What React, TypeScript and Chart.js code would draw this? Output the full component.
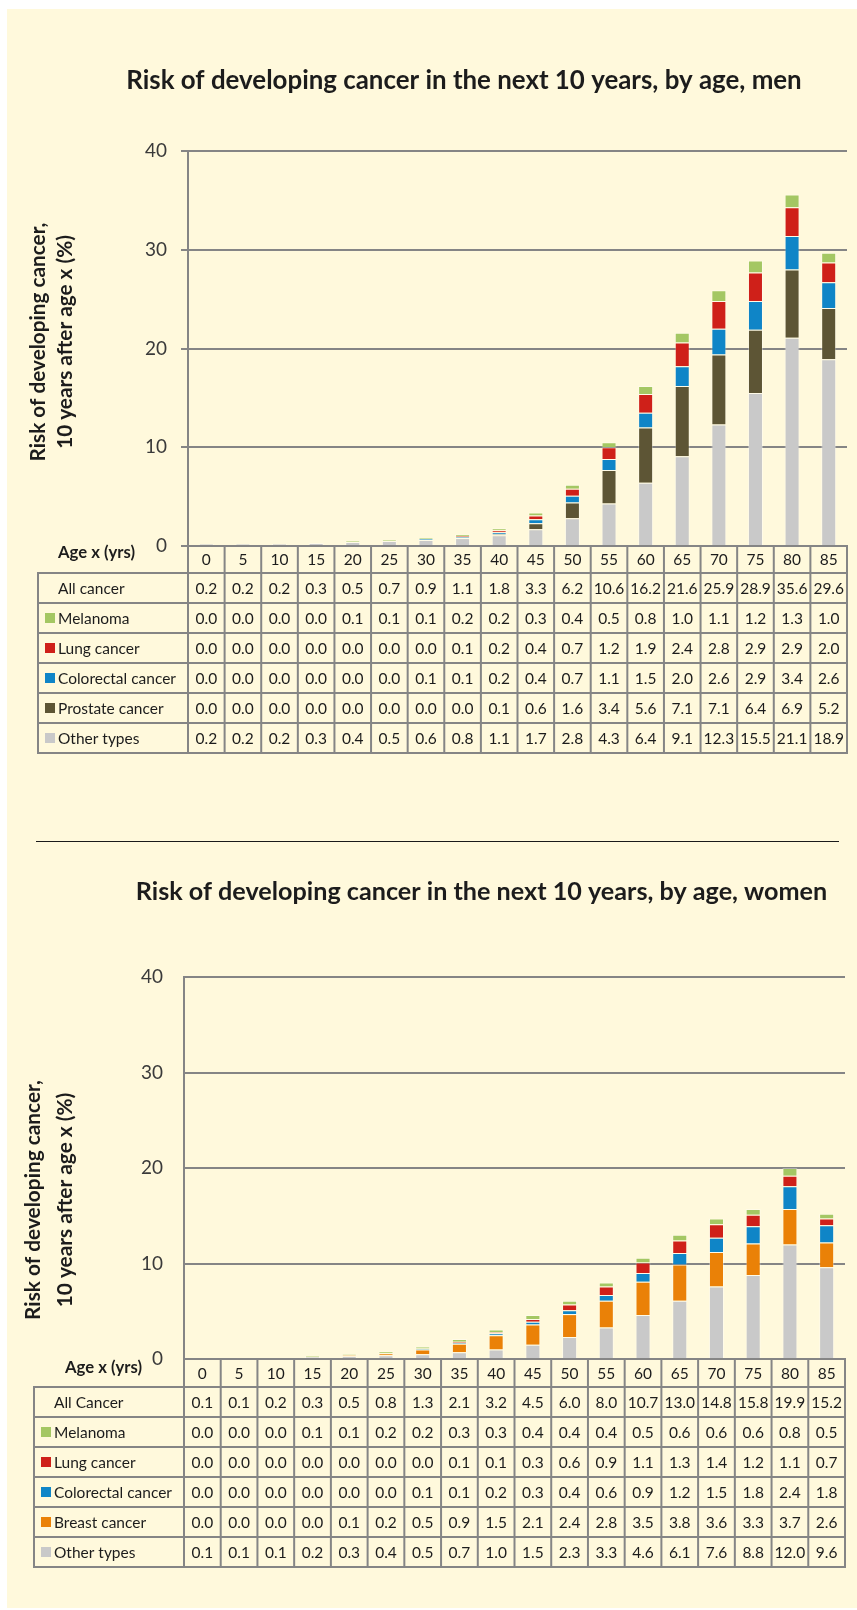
import React, { useEffect, useRef } from 'react';
import { Chart, registerables } from 'chart.js';

Chart.register(...registerables);

const FONT = 'Lato, "Open Sans", sans-serif';
Chart.defaults.font.family = FONT;

// ---------- DATA ----------
const ageLabels = ['0', '5', '10', '15', '20', '25', '30', '35', '40', '45', '50', '55', '60', '65', '70', '75', '80', '85'];

const menTitle = 'Risk of developing cancer in the next 10 years, by age, men';
const menAllCancer = [0.2, 0.2, 0.2, 0.3, 0.5, 0.7, 0.9, 1.1, 1.8, 3.3, 6.2, 10.6, 16.2, 21.6, 25.9, 28.9, 35.6, 29.6];
const menMelanoma = [0.0, 0.0, 0.0, 0.0, 0.1, 0.1, 0.1, 0.2, 0.2, 0.3, 0.4, 0.5, 0.8, 1.0, 1.1, 1.2, 1.3, 1.0];
const menLung = [0.0, 0.0, 0.0, 0.0, 0.0, 0.0, 0.0, 0.1, 0.2, 0.4, 0.7, 1.2, 1.9, 2.4, 2.8, 2.9, 2.9, 2.0];
const menColorectal = [0.0, 0.0, 0.0, 0.0, 0.0, 0.0, 0.1, 0.1, 0.2, 0.4, 0.7, 1.1, 1.5, 2.0, 2.6, 2.9, 3.4, 2.6];
const menProstate = [0.0, 0.0, 0.0, 0.0, 0.0, 0.0, 0.0, 0.0, 0.1, 0.6, 1.6, 3.4, 5.6, 7.1, 7.1, 6.4, 6.9, 5.2];
const menOther = [0.2, 0.2, 0.2, 0.3, 0.4, 0.5, 0.6, 0.8, 1.1, 1.7, 2.8, 4.3, 6.4, 9.1, 12.3, 15.5, 21.1, 18.9];

const womenTitle = 'Risk of developing cancer in the next 10 years, by age, women';
const womenAllCancer = [0.1, 0.1, 0.2, 0.3, 0.5, 0.8, 1.3, 2.1, 3.2, 4.5, 6.0, 8.0, 10.7, 13.0, 14.8, 15.8, 19.9, 15.2];
const womenMelanoma = [0.0, 0.0, 0.0, 0.1, 0.1, 0.2, 0.2, 0.3, 0.3, 0.4, 0.4, 0.4, 0.5, 0.6, 0.6, 0.6, 0.8, 0.5];
const womenLung = [0.0, 0.0, 0.0, 0.0, 0.0, 0.0, 0.0, 0.1, 0.1, 0.3, 0.6, 0.9, 1.1, 1.3, 1.4, 1.2, 1.1, 0.7];
const womenColorectal = [0.0, 0.0, 0.0, 0.0, 0.0, 0.0, 0.1, 0.1, 0.2, 0.3, 0.4, 0.6, 0.9, 1.2, 1.5, 1.8, 2.4, 1.8];
const womenBreast = [0.0, 0.0, 0.0, 0.0, 0.1, 0.2, 0.5, 0.9, 1.5, 2.1, 2.4, 2.8, 3.5, 3.8, 3.6, 3.3, 3.7, 2.6];
const womenOther = [0.1, 0.1, 0.1, 0.2, 0.3, 0.4, 0.5, 0.7, 1.0, 1.5, 2.3, 3.3, 4.6, 6.1, 7.6, 8.8, 12.0, 9.6];

const yTitleLines = ['Risk of developing cancer,', '10 years after age x (%)'];
const ageAxisTitle = 'Age x (yrs)';
const yTicks = { min: 0, max: 40, step: 10 };

// ---------- STYLE ----------
const CREAM = '#FFF9DC';
const C_GRAY = '#C9C9C9';
const C_OLIVE = '#5D5535';
const C_BLUE = '#0F85C7';
const C_RED = '#CF2019';
const C_GREEN = '#A4C763';
const C_ORANGE = '#EA8107';
const LINE = '#858585';
const TEXT = '#1c1c1c';

type Series = { name: string; values: number[]; color: string };
type Row = { label: string; color: string | null; values: number[] };

const menSpec = {
  title: menTitle,
  series: [
    { name: 'Other types', values: menOther, color: C_GRAY },
    { name: 'Prostate cancer', values: menProstate, color: C_OLIVE },
    { name: 'Colorectal cancer', values: menColorectal, color: C_BLUE },
    { name: 'Lung cancer', values: menLung, color: C_RED },
    { name: 'Melanoma', values: menMelanoma, color: C_GREEN },
  ] as Series[],
  rows: [
    { label: 'All cancer', color: null, values: menAllCancer },
    { label: 'Melanoma', color: C_GREEN, values: menMelanoma },
    { label: 'Lung cancer', color: C_RED, values: menLung },
    { label: 'Colorectal cancer', color: C_BLUE, values: menColorectal },
    { label: 'Prostate cancer', color: C_OLIVE, values: menProstate },
    { label: 'Other types', color: C_GRAY, values: menOther },
  ] as Row[],
};

const womenSpec = {
  title: womenTitle,
  series: [
    { name: 'Other types', values: womenOther, color: C_GRAY },
    { name: 'Breast cancer', values: womenBreast, color: C_ORANGE },
    { name: 'Colorectal cancer', values: womenColorectal, color: C_BLUE },
    { name: 'Lung cancer', values: womenLung, color: C_RED },
    { name: 'Melanoma', values: womenMelanoma, color: C_GREEN },
  ] as Series[],
  rows: [
    { label: 'All Cancer', color: null, values: womenAllCancer },
    { label: 'Melanoma', color: C_GREEN, values: womenMelanoma },
    { label: 'Lung cancer', color: C_RED, values: womenLung },
    { label: 'Colorectal cancer', color: C_BLUE, values: womenColorectal },
    { label: 'Breast cancer', color: C_ORANGE, values: womenBreast },
    { label: 'Other types', color: C_GRAY, values: womenOther },
  ] as Row[],
};

// layout (canvas coordinates)
const menLayout = {
  pageTop: 9, width: 850, height: 791,
  padLeft: 74, padRight: 10, yAxisWidth: 107, padBottom: 254,
  titleCenter: 72, plotTop: 142, titleWidth: 676,
  drawTicks: true, tickPadding: 14,
  yTitleX: [31, 58], yTitleCY: 333, yTitleWidth: 239,
  ageX: 51, ageCY: 544, ageWidth: 77,
  tableLeft: 31, ageRowBottom: 564, rowH: 30, labelX: 51, squareX: 38,
};
const womenLayout = {
  pageTop: 800, width: 850, height: 808,
  padLeft: 111, padRight: 12, yAxisWidth: 66, padBottom: 249,
  titleCenter: 92, plotTop: 177, titleWidth: 692,
  drawTicks: false, tickPadding: 21,
  yTitleX: [26, 58], yTitleCY: 400, yTitleWidth: 240,
  ageX: 58, ageCY: 568, ageWidth: 77,
  tableLeft: 27, ageRowBottom: 587, rowH: 30, labelX: 47, squareX: 34,
};

function fitSize(text: string, weight: string, target: number) {
  const c = document.createElement('canvas').getContext('2d')!;
  c.font = `${weight} 100px ${FONT}`;
  return (100 * target) / c.measureText(text).width;
}

function makeChart(canvas: HTMLCanvasElement, spec: any, L: any) {
  const titleSize = fitSize(spec.title, 'bold', L.titleWidth);
  const lh = titleSize * 1.2;
  const tickSize = fitSize('40', 'normal', 22);
  const cellSize = fitSize('Colorectal cancer', 'normal', 118);
  const yTitleSize = fitSize(yTitleLines[0], 'bold', L.yTitleWidth);
  const ageSize = fitSize(ageAxisTitle, 'bold', L.ageWidth);
  const n = ageLabels.length;

  const tablePlugin = {
    id: 'tableAndLabels',
    afterDraw(chart: any) {
      const ctx = chart.ctx as CanvasRenderingContext2D;
      const xs = chart.scales.x;
      const ys = chart.scales.y;
      const area = chart.chartArea;
      const zeroY = ys.getPixelForValue(0);
      const colW = (area.right - area.left) / n;
      const rowsTop = L.ageRowBottom;
      const nRows = spec.rows.length;
      const bottom = rowsTop + nRows * L.rowH;

      ctx.save();
      // grid of the table
      ctx.strokeStyle = LINE;
      ctx.lineWidth = 2;
      ctx.beginPath();
      ctx.moveTo(area.left, zeroY);
      ctx.lineTo(area.right + 1, zeroY);
      for (let r = 0; r <= nRows; r++) {
        const y = rowsTop + r * L.rowH;
        ctx.moveTo(L.tableLeft - 1, y);
        ctx.lineTo(area.right + 1, y);
      }
      ctx.moveTo(L.tableLeft, rowsTop);
      ctx.lineTo(L.tableLeft, bottom);
      for (let i = 0; i <= n; i++) {
        const x = i < n ? xs.getPixelForValue(i) - colW / 2 : xs.getPixelForValue(n - 1) + colW / 2;
        ctx.moveTo(x, zeroY);
        ctx.lineTo(x, bottom);
      }
      ctx.stroke();

      // table text
      ctx.fillStyle = TEXT;
      ctx.font = `${cellSize}px ${FONT}`;
      ctx.textBaseline = 'middle';
      ctx.textAlign = 'center';
      ageLabels.forEach((c, i) => ctx.fillText(c, xs.getPixelForValue(i), (zeroY + rowsTop) / 2 + 1));
      spec.rows.forEach((row: Row, r: number) => {
        const cy = rowsTop + (r + 0.5) * L.rowH;
        ctx.fillStyle = TEXT;
        ctx.textAlign = 'center';
        row.values.forEach((v, i) => ctx.fillText(v.toFixed(1), xs.getPixelForValue(i), cy + 1));
        ctx.textAlign = 'left';
        ctx.fillText(row.label, L.labelX, cy + 1);
        if (row.color) {
          ctx.fillStyle = row.color;
          ctx.fillRect(L.squareX, cy - 5, 10, 10);
        }
      });

      // y axis title (two rotated lines)
      ctx.fillStyle = TEXT;
      ctx.font = `bold ${yTitleSize}px ${FONT}`;
      yTitleLines.forEach((line, k) => {
        ctx.save();
        ctx.translate(L.yTitleX[k], L.yTitleCY);
        ctx.rotate(-Math.PI / 2);
        ctx.textAlign = 'center';
        ctx.textBaseline = 'middle';
        ctx.fillText(line, 0, 0);
        ctx.restore();
      });

      // age axis label
      ctx.font = `bold ${ageSize}px ${FONT}`;
      ctx.textAlign = 'left';
      ctx.textBaseline = 'middle';
      ctx.fillText(ageAxisTitle, L.ageX, L.ageCY);
      ctx.restore();
    },
  };

  return new Chart(canvas, {
    type: 'bar',
    data: {
      labels: ageLabels,
      datasets: spec.series.map((s: Series) => ({
        label: s.name,
        data: s.values,
        backgroundColor: s.color,
        borderColor: 'rgba(255,255,255,0.35)',
        borderWidth: 1,
        stack: 'all',
        barPercentage: 0.41,
        categoryPercentage: 1,
      })),
    },
    options: {
      responsive: false,
      animation: false,
      events: [],
      layout: { padding: { left: L.padLeft, right: L.padRight, top: 0, bottom: L.padBottom } },
      plugins: {
        legend: { display: false },
        tooltip: { enabled: false },
        title: {
          display: true,
          text: spec.title,
          color: TEXT,
          font: { family: FONT, size: titleSize, weight: 'bold', lineHeight: 1.2 },
          padding: { top: L.titleCenter - lh / 2, bottom: L.plotTop - L.titleCenter - lh / 2 },
        },
      },
      scales: {
        x: { display: false, stacked: true },
        y: {
          stacked: true,
          min: yTicks.min,
          max: yTicks.max,
          ticks: { stepSize: yTicks.step, color: '#3a3a3a', font: { family: FONT, size: tickSize }, padding: L.tickPadding },
          grid: { color: LINE, lineWidth: 2, drawTicks: L.drawTicks, tickLength: 7 },
          border: { display: true, color: LINE, width: 2 },
          afterFit: (s: any) => {
            s.width = L.yAxisWidth;
          },
        },
      },
    } as any,
    plugins: [tablePlugin],
  });
}

function ChartCanvas({ spec, layout }: { spec: any; layout: any }) {
  const ref = useRef<HTMLCanvasElement | null>(null);
  useEffect(() => {
    if (!ref.current) return;
    const chart = makeChart(ref.current, spec, layout);
    return () => chart.destroy();
  }, [spec, layout]);
  return (
    <canvas
      ref={ref}
      width={layout.width}
      height={layout.height}
      style={{ position: 'absolute', left: 7, top: layout.pageTop, width: layout.width, height: layout.height }}
    />
  );
}

export default function App() {
  return (
    <div style={{ position: 'fixed', left: 0, top: 0, width: 857, height: 1610, background: '#ffffff', overflow: 'hidden' }}>
      <div style={{ position: 'absolute', left: 7, top: 9, width: 850, height: 1599, background: CREAM }} />
      <ChartCanvas spec={menSpec} layout={menLayout} />
      <div style={{ position: 'absolute', left: 36, top: 841, width: 803, height: 1, background: '#1a1a1a' }} />
      <ChartCanvas spec={womenSpec} layout={womenLayout} />
    </div>
  );
}
